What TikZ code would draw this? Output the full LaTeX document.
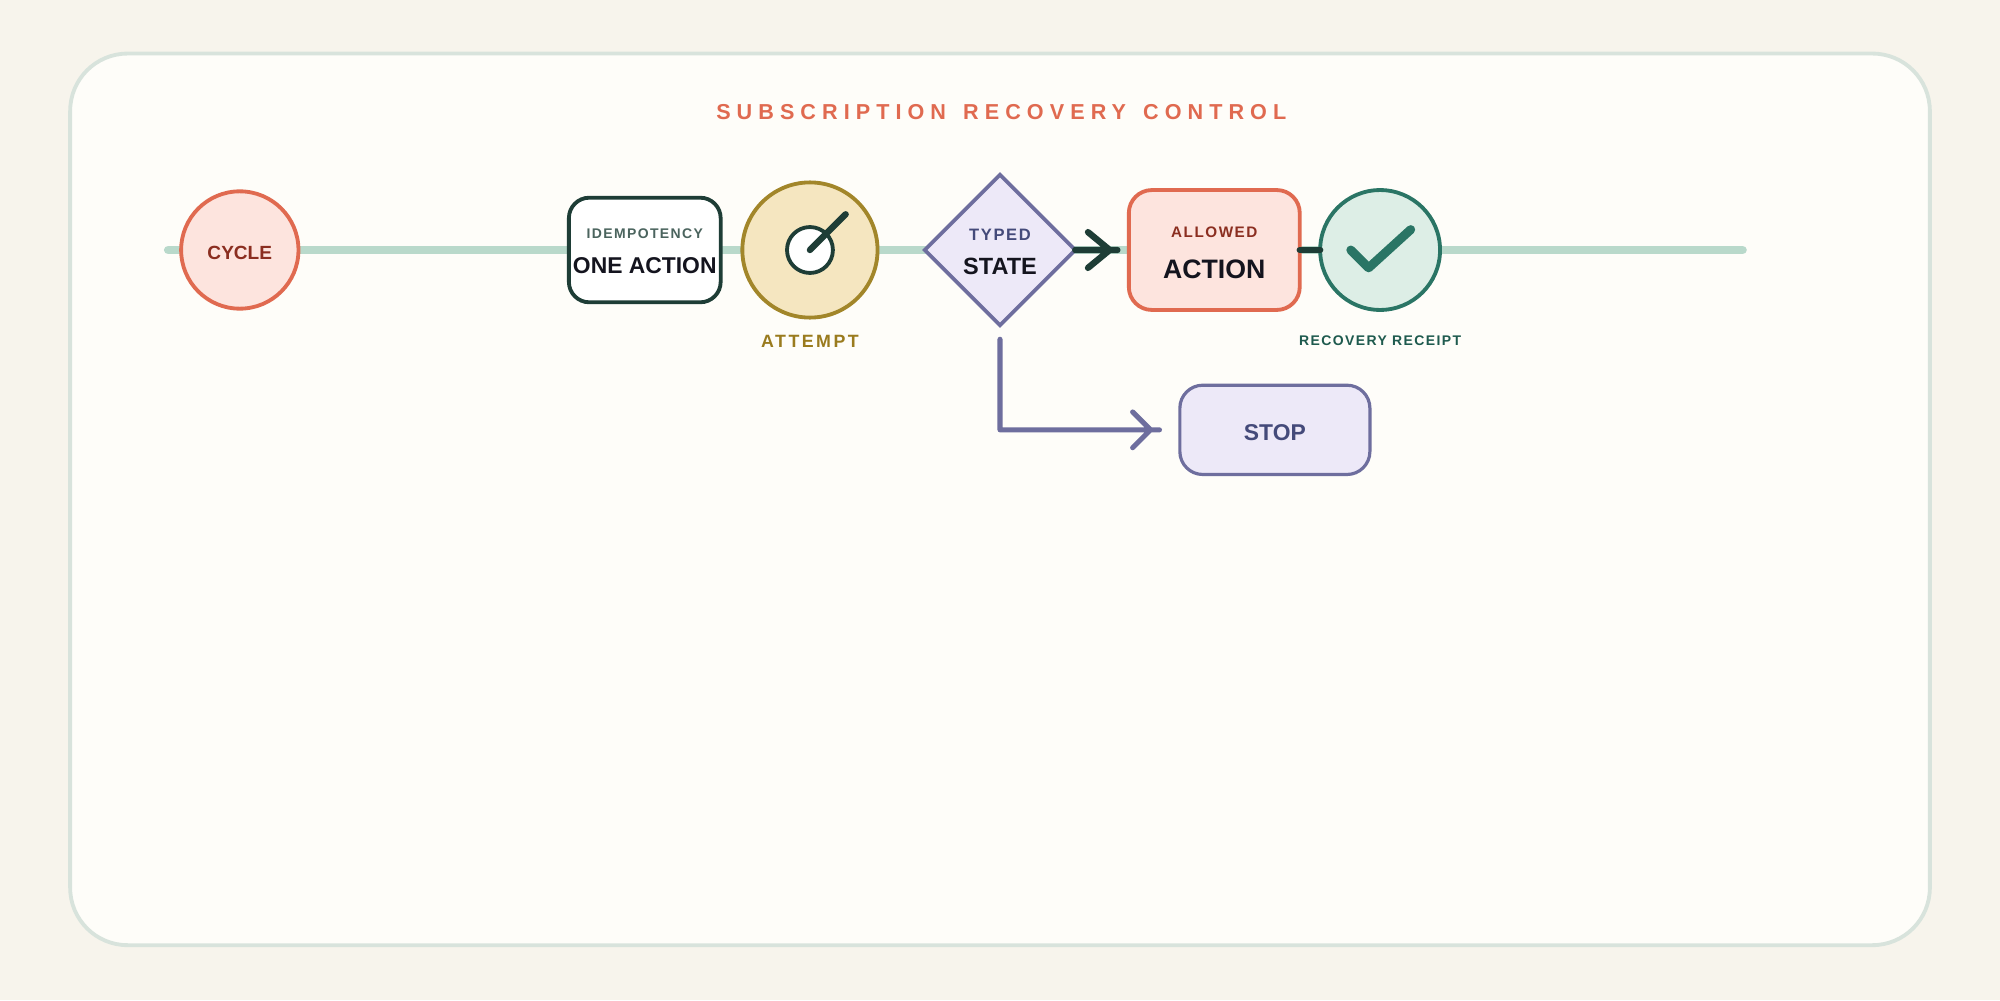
\documentclass[tikz,border=0pt]{standalone}
\usepackage{fontspec}
\setmainfont{Liberation Sans}
\newfontfamily\wide[LetterSpace=28]{Liberation Sans}
\newfontfamily\midwide[LetterSpace=14]{Liberation Sans}
\newfontfamily\semiwide[LetterSpace=10]{Liberation Sans}
\usetikzlibrary{shapes.geometric}
\definecolor{bg}{HTML}{F7F4EC}
\definecolor{card}{HTML}{FEFDF9}
\definecolor{cardline}{HTML}{D8E3DC}
\definecolor{coral}{HTML}{E06A50}
\definecolor{coralfill}{HTML}{FDE4DE}
\definecolor{coraltext}{HTML}{8B2E20}
\definecolor{dark}{HTML}{1E3D36}
\definecolor{gold}{HTML}{A2862A}
\definecolor{goldfill}{HTML}{F5E6C0}
\definecolor{goldtext}{HTML}{9A7B1E}
\definecolor{lav}{HTML}{6E6E9E}
\definecolor{lavfill}{HTML}{EDE9F8}
\definecolor{lavtext}{HTML}{444A7A}
\definecolor{teal}{HTML}{2A7565}
\definecolor{tealfill}{HTML}{DDEEE6}
\definecolor{tealtext}{HTML}{1E5A4E}
\definecolor{track}{HTML}{B9D9CB}
\definecolor{ink}{HTML}{14141E}
\tikzset{
  every node/.style={inner sep=0pt, outer sep=0pt},
  circ/.style={circle, line width=3bp},
  box/.style={rounded corners=16bp, line width=3bp},
  lbl/.style={font=\bfseries\fontsize{#1}{#1}\selectfont},
  wlbl/.style={font=\bfseries\wide\fontsize{#1}{#1}\selectfont},
  mlbl/.style={font=\bfseries\midwide\fontsize{#1}{#1}\selectfont},
  slbl/.style={font=\bfseries\semiwide\fontsize{#1}{#1}\selectfont},
}
\begin{document}
\begin{tikzpicture}[x=1bp,y=-1bp]
\fill[bg] (0,0) rectangle (1568,784);
\useasboundingbox (0,0) rectangle (1568,784);
\draw[fill=card, draw=cardline, line width=3bp, rounded corners=45bp] (55,42) rectangle (1513,741);
\node[wlbl=17, text=coral] (title) at (785,88) {SUBSCRIPTION\hspace{4bp} RECOVERY\hspace{4bp} CONTROL};

\coordinate (tl) at (132,196);
\coordinate (tr) at (1366,196);
\draw[track, line width=7bp, line cap=round] (tl) -- (tr);

\node[circ, draw=coral, fill=coralfill, minimum size=92bp] (cycle) at (188,196) {};
\node[lbl=15, text=coraltext] at (188,198) {CYCLE};

\node[box, draw=dark, fill=white, minimum width=119bp, minimum height=82bp] (idem) at (505.5,196) {};
\node[slbl=11, text=dark!80] at (505.5,183) {IDEMPOTENCY};
\node[lbl=18, text=ink] at (505.5,208) {ONE ACTION};

\node[circ, draw=gold, fill=goldfill, minimum size=106bp] (att) at (635,196) {};
\node[circle, draw=dark, fill=white, line width=3bp, minimum size=36bp] (knob) at (635,196) {};
\coordinate (hand) at (663,168);
\draw[dark, line width=5bp, line cap=round] (knob.center) -- (hand);
\node[mlbl=14, text=goldtext] (attl) at (635,268) {ATTEMPT};

\node[diamond, draw=lav, fill=lavfill, line width=3bp, minimum width=118bp, minimum height=118bp, aspect=1] (state) at (784,196) {};
\node[slbl=13, text=lavtext] at (784,184) {TYPED};
\node[lbl=18.5, text=ink] at (784,209) {STATE};

\node[box, draw=coral, fill=coralfill, rounded corners=18bp, minimum width=134bp, minimum height=94bp] (allow) at (952,196) {};
\node[slbl=12, text=coraltext] at (952,182) {ALLOWED};
\node[lbl=21, text=ink] at (952,211) {ACTION};

\coordinate (a1) at (876,196);
\draw[dark, line width=5bp, line cap=round, line join=round] (state.east) -- (a1) (853,182) -- (870,196) -- (853,210);

\node[circ, draw=teal, fill=tealfill, minimum size=94bp] (rec) at (1082,196) {};
\draw[teal, line width=7bp, line cap=round, line join=round] (1059,196) -- (1073,210) -- (1106,180);
\node[slbl=11, text=tealtext] (recl) at (1082,267) {RECOVERY RECEIPT};
\draw[dark, line width=5bp, line cap=round] (allow.east) -- (rec.west);

\node[box, draw=lav, fill=lavfill, line width=2.5bp, rounded corners=18bp, minimum width=149bp, minimum height=70bp] (stop) at (999.5,337) {};
\node[lbl=18, text=lavtext] at (999.5,339) {STOP};

\coordinate (b0) at (784,266);
\coordinate (b1) at (909,337);
\draw[lav, line width=4bp, line cap=round, line join=round] (b0) |- (b1) (888,323) -- (902,337) -- (888,351);
\end{tikzpicture}
\end{document}
